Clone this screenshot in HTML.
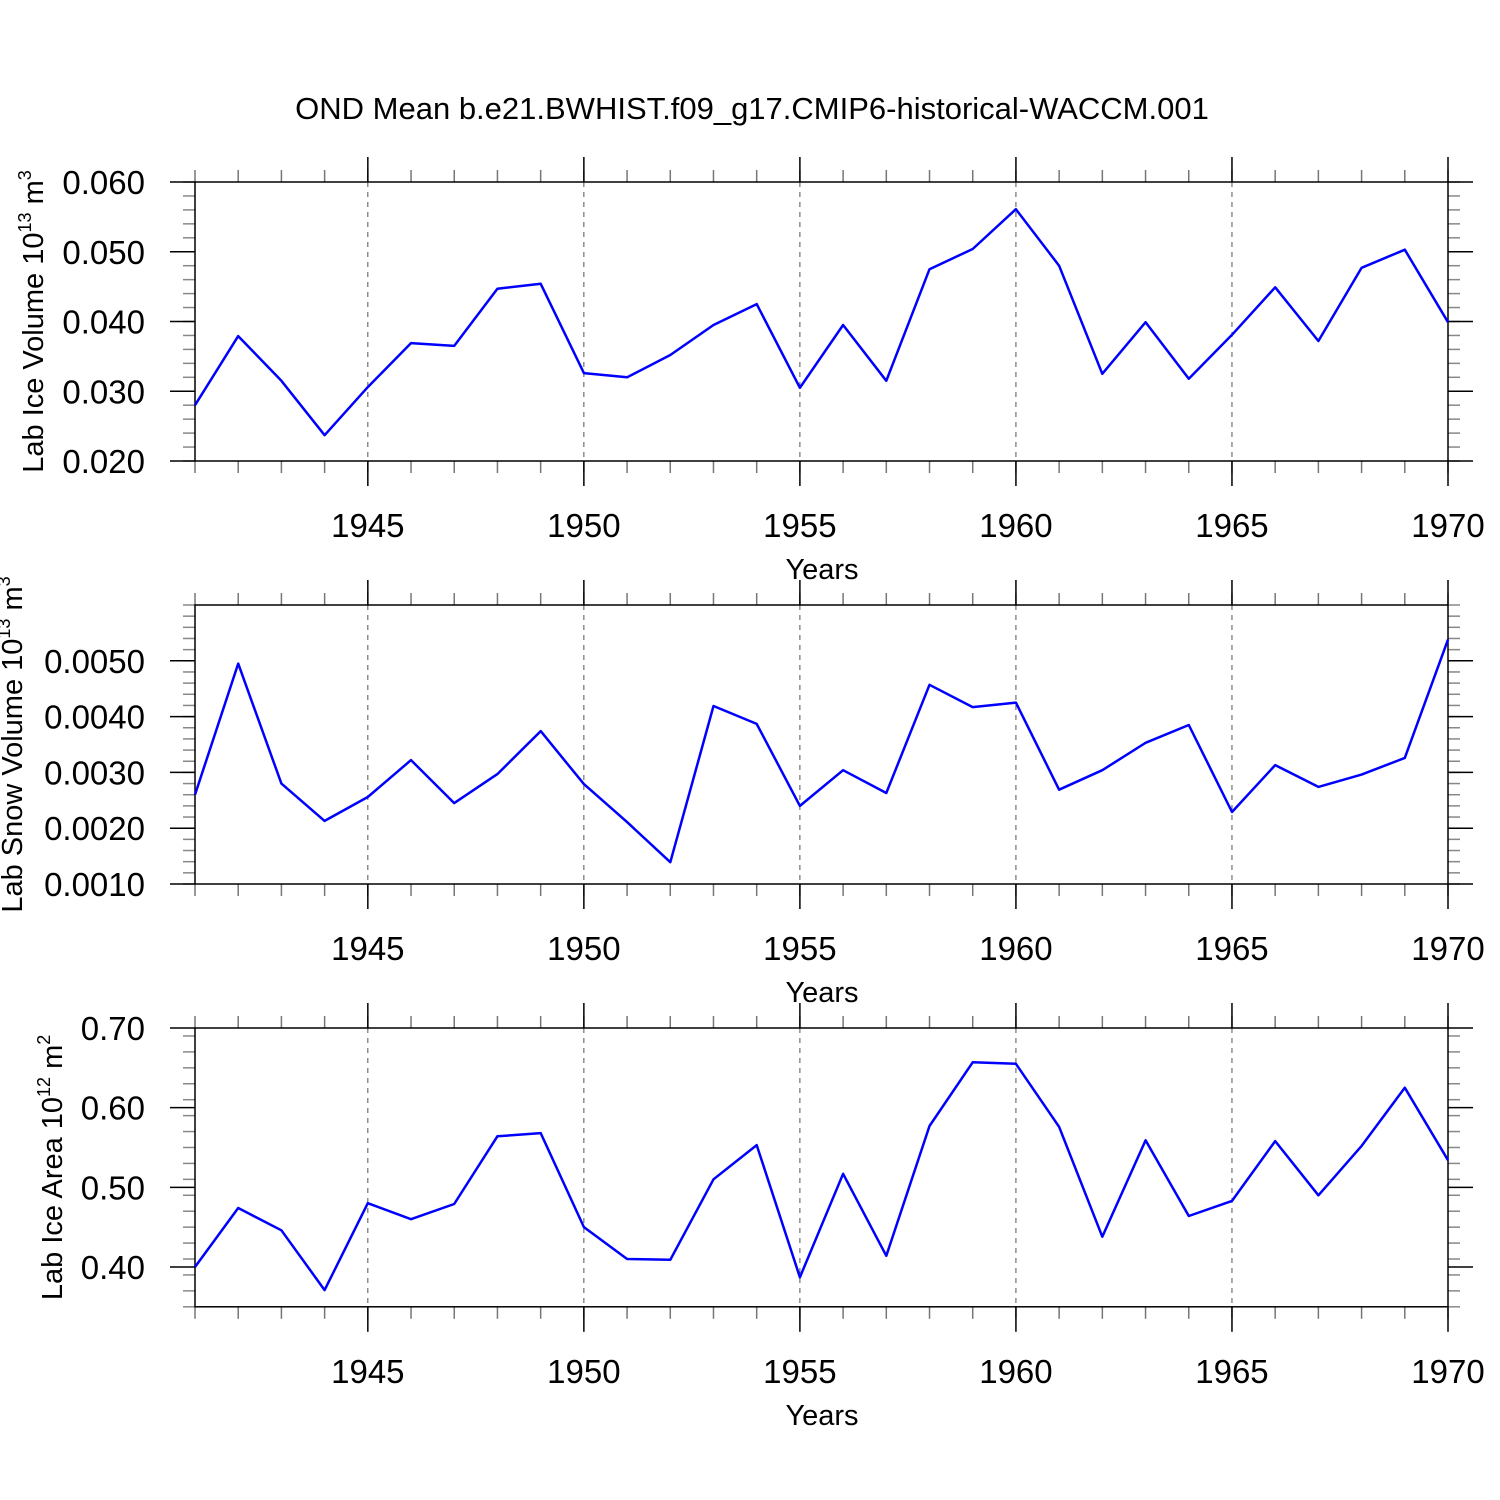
<!DOCTYPE html>
<html><head><meta charset="utf-8"><style>
html,body{margin:0;padding:0;background:#fff}
svg{display:block}
text{font-family:"Liberation Sans",sans-serif;fill:#000}
</style></head><body>
<svg id="chart" width="1500" height="1500" xmlns="http://www.w3.org/2000/svg">
<text x="752" y="119" font-size="31" text-anchor="middle">OND Mean b.e21.BWHIST.f09_g17.CMIP6-historical-WACCM.001</text>
</svg>
<script>
const years = [1941,1942,1943,1944,1945,1946,1947,1948,1949,1950,1951,1952,1953,1954,1955,1956,1957,1958,1959,1960,1961,1962,1963,1964,1965,1966,1967,1968,1969,1970];
const iceVolume = [0.0280,0.0379,0.0315,0.0237,0.0306,0.0369,0.0365,0.0447,0.0454,0.0326,0.0320,0.0352,0.0395,0.0425,0.0305,0.0395,0.0315,0.0475,0.0504,0.0561,0.0480,0.0325,0.0399,0.0318,0.0381,0.0449,0.0372,0.0477,0.0503,0.0399];
const snowVolume = [0.00260,0.00495,0.00280,0.00213,0.00256,0.00322,0.00245,0.00297,0.00374,0.00279,0.00211,0.00139,0.00419,0.00387,0.00240,0.00304,0.00263,0.00457,0.00417,0.00425,0.00269,0.00304,0.00353,0.00385,0.00229,0.00313,0.00274,0.00296,0.00326,0.00538];
const iceArea = [0.400,0.474,0.446,0.371,0.480,0.460,0.479,0.564,0.568,0.450,0.410,0.409,0.510,0.553,0.387,0.517,0.414,0.577,0.657,0.655,0.576,0.438,0.559,0.464,0.483,0.558,0.490,0.552,0.625,0.534];
const xTicks = [1945,1950,1955,1960,1965,1970];
const iceVolTicks = [0.020,0.030,0.040,0.050,0.060];
const iceVolLabels = ["0.020","0.030","0.040","0.050","0.060"];
const snowTicks = [0.0010,0.0020,0.0030,0.0040,0.0050];
const snowLabels = ["0.0010","0.0020","0.0030","0.0040","0.0050"];
const areaTicks = [0.40,0.50,0.60,0.70];
const areaLabels = ["0.40","0.50","0.60","0.70"];

const NS="http://www.w3.org/2000/svg";
const svg=document.getElementById('chart');
function mk(tag,attrs,parent){const e=document.createElementNS(NS,tag);for(const k in attrs)e.setAttribute(k,attrs[k]);(parent||svg).appendChild(e);return e;}
const X0=195,X1=1448,YR0=1941,YR1=1970;
function xs(v){return X0+(v-YR0)/(YR1-YR0)*(X1-X0);}

function panel(name,top,bottom,vmin,vmax,minorStep,ticks,labels,data,ylabelParts,ylabelX){
  const g=mk('g',{});
  
  
  const ys=v=>bottom-(v-vmin)/(vmax-vmin)*(bottom-top);
  xTicks.forEach(t=>{if(t<YR1){const l=mk('line',{x1:xs(t),x2:xs(t),y1:top,y2:bottom,stroke:'#555','stroke-width':1,'stroke-dasharray':'5,5'},g);
    
    }});
  years.forEach(y=>{
    mk('line',{x1:xs(y),x2:xs(y),y1:top-12,y2:top,stroke:'#777','stroke-width':1.5},g);
    mk('line',{x1:xs(y),x2:xs(y),y1:bottom,y2:bottom+12,stroke:'#777','stroke-width':1.5},g);
  });
  xTicks.forEach(t=>{
    mk('line',{x1:xs(t),x2:xs(t),y1:top-25,y2:top,stroke:'#000','stroke-width':1.5},g);
    mk('line',{x1:xs(t),x2:xs(t),y1:bottom,y2:bottom+25,stroke:'#000','stroke-width':1.5},g);
    const tx=mk('text',{x:xs(t),y:bottom+76,'font-size':33,'text-anchor':'middle'},g);
    tx.textContent=t;
    
    
  });
  for(let v=vmin;v<=vmax+1e-9;v+=minorStep){
    const y=ys(v);
    mk('line',{x1:X0-12,x2:X0,y1:y,y2:y,stroke:'#888','stroke-width':1.5},g);
    mk('line',{x1:X1,x2:X1+12,y1:y,y2:y,stroke:'#888','stroke-width':1.5},g);
  }
  ticks.forEach((t,i)=>{
    const y=ys(t);
    mk('line',{x1:X0-25,x2:X0,y1:y,y2:y,stroke:'#000','stroke-width':1.5},g);
    mk('line',{x1:X1,x2:X1+25,y1:y,y2:y,stroke:'#000','stroke-width':1.5},g);
    const tx=mk('text',{x:X0-50,y:y+12,'font-size':33,'text-anchor':'end'},g);
    tx.textContent=labels[i];
    
    
  });
  const fr=mk('rect',{x:X0,y:top,width:X1-X0,height:bottom-top,fill:'none',stroke:'#000','stroke-width':1.5},g);
  
  
  const pts=years.map((y,i)=>xs(y).toFixed(1)+','+ys(data[i]).toFixed(1)).join(' ');
  const pl=mk('polyline',{points:pts,fill:'none',stroke:'#0000ff','stroke-width':2.5,'stroke-linejoin':'round'},g);
  
  
  const xt=mk('text',{x:822,y:bottom+118,'font-size':29,'text-anchor':'middle'},g);
  xt.textContent='Years';
  
  
  const cy=(top+bottom)/2;
  const yt=mk('text',{x:0,y:0,'font-size':29,'text-anchor':'middle',transform:'translate('+ylabelX+','+cy+') rotate(-90)'},g);
  
  
  const a=document.createElementNS(NS,'tspan');a.textContent=ylabelParts[0];yt.appendChild(a);
  const b=document.createElementNS(NS,'tspan');b.setAttribute('font-size','18');b.setAttribute('dy','-12');b.textContent=ylabelParts[1];yt.appendChild(b);
  const c=document.createElementNS(NS,'tspan');c.setAttribute('dy','12');c.textContent=ylabelParts[2];yt.appendChild(c);
  const d=document.createElementNS(NS,'tspan');d.setAttribute('font-size','18');d.setAttribute('dy','-12');d.textContent=ylabelParts[3];yt.appendChild(d);
}
panel('ice-volume',182,461,0.020,0.060,0.002,iceVolTicks,iceVolLabels,iceVolume,['Lab Ice Volume 10','13',' m','3'],43);
panel('snow-volume',605,884,0.0010,0.0060,0.0002,snowTicks,snowLabels,snowVolume,['Lab Snow Volume 10','13',' m','3'],22);
panel('ice-area',1028,1306.8,0.35,0.70,0.02,areaTicks,areaLabels,iceArea,['Lab Ice Area 10','12',' m','2'],62);
</script>
</body></html>
